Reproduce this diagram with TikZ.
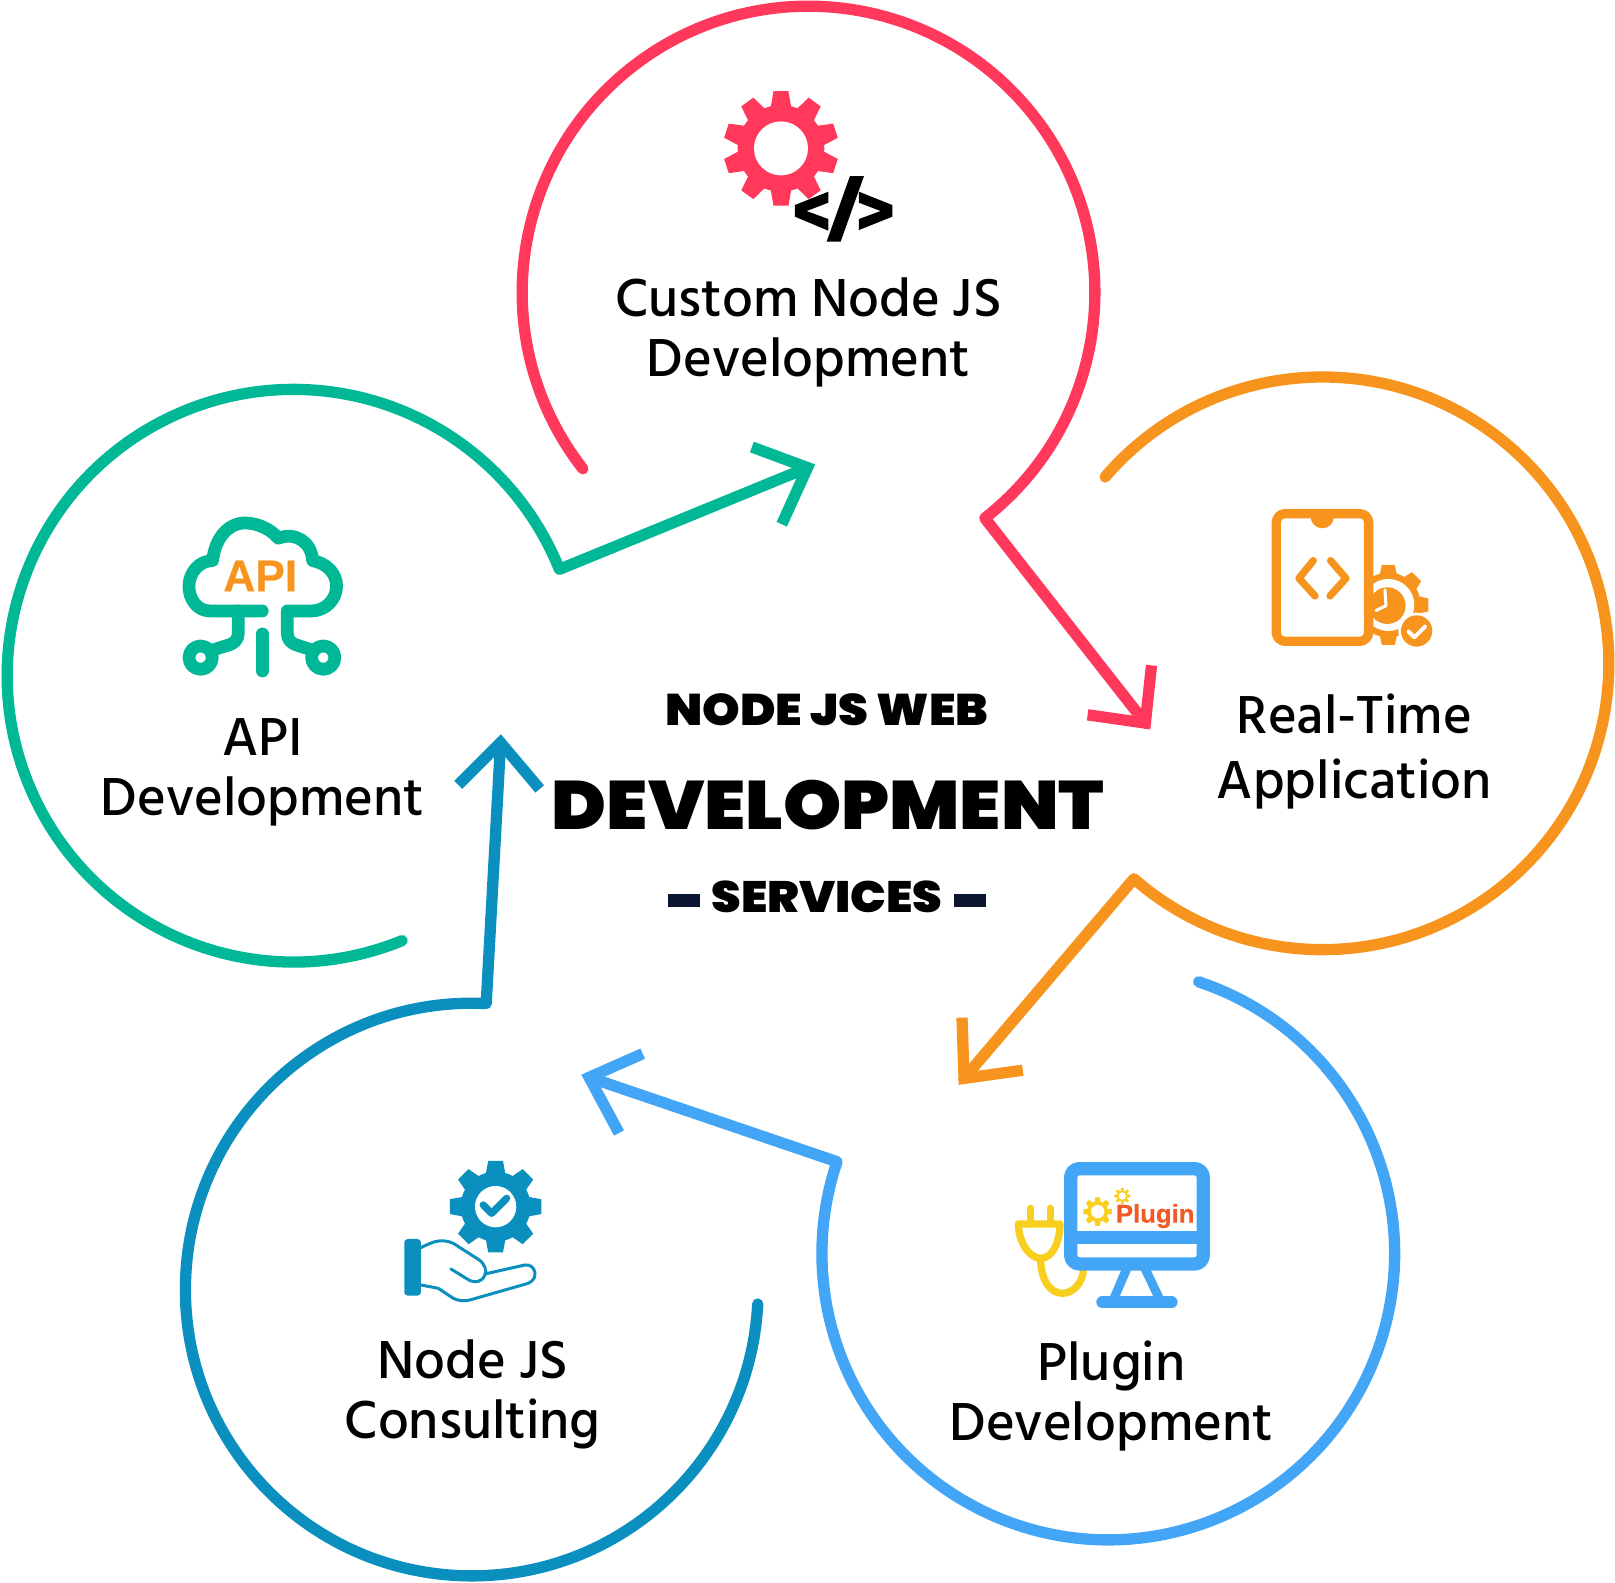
\documentclass[tikz,border=0pt]{standalone}
\usepackage{fontspec}
\newfontfamily\labelfont{Hind Siliguri Medium}
\newfontfamily\headfont[FakeStretch=1.08]{Poppins Black}
\newfontfamily\apifont[BoldFeatures={FakeBold=0.5}]{Liberation Sans}
\definecolor{ringred}{HTML}{FF385C}
\definecolor{ringorange}{HTML}{F7941E}
\definecolor{ringblue}{HTML}{42A5F5}
\definecolor{ringteal}{HTML}{0A8FBF}
\definecolor{ringgreen}{HTML}{00B796}
\definecolor{plugyellow}{HTML}{F9CF1F}
\definecolor{plugtext}{HTML}{F15A24}
\definecolor{dashnavy}{HTML}{0B1730}
\tikzset{
	ringline/.style={line width=1.13mm,line cap=round,line join=round},
	headline/.style={line width=1.13mm,line join=miter},
	servicelabel/.style={align=center,inner sep=0,font=\labelfont\fontsize{15.6}{17}\selectfont},
	centerlabel/.style={inner sep=0,text=black},
}
% gear: x, y, outer, body, hole, teeth, colour
\newcommand{\gearicon}[7]{
	\fill[#7] (#1,#2) circle[radius=#4];
	\foreach \i in {1,...,#6}{
		\fill[#7,rotate around={\i*360/#6:(#1,#2)}] ({#1-(1.3/#6+0.05)*#3},{#2-#4+0.04*#3}) -- ({#1-1.3/#6*#3},{#2-#3}) -- ({#1+1.3/#6*#3},{#2-#3}) -- ({#1+(1.3/#6+0.05)*#3},{#2-#4+0.04*#3}) -- cycle;
	}
	\fill[white] (#1,#2) circle[radius=#5];
}
\begin{document}
\begin{tikzpicture}[x=0.103mm,y=-0.103mm]
		\useasboundingbox (0,0) rectangle (1568,1536);
		% rings and arrows
		\coordinate (redstart) at ([shift={(142:278)}]785,284);
		\coordinate (redtip) at (1112,702);
		\coordinate (orangestart) at ([shift={(220.6:278)}]1284,644);
		\coordinate (orangetip) at (936,1047);
		\coordinate (bluestart) at ([shift={(288.4:278)}]1076,1217);
		\coordinate (bluetip) at (572,1046);
		\coordinate (tealstart) at ([shift={(2.9:278)}]458,1252);
		\coordinate (tealtip) at (486,721);
		\coordinate (greenstart) at ([shift={(67.7:278)}]285,656);
		\coordinate (greentip) at (784,454);
		\draw[ringline,ringred] (redstart) arc[start angle=142,end angle=412,radius=278] -- (redtip);
		\draw[ringline,ringorange] (orangestart) arc[start angle=220.6,end angle=491.2,radius=278] -- (orangetip);
		\draw[ringline,ringblue] (bluestart) arc[start angle=288.4,end angle=558.7,radius=278] -- (bluetip);
		\draw[ringline,ringteal] (tealstart) arc[start angle=2.9,end angle=272.9,radius=278] -- (tealtip);
		\draw[ringline,ringgreen] (greenstart) arc[start angle=67.7,end angle=338.2,radius=278] -- (greentip);
		\draw[headline,ringred] (1118,646)--(redtip)--(1056,694);
		\draw[headline,ringorange] (934,988)--(orangetip)--(993,1039);
		\draw[headline,ringblue] (624,1023)--(bluetip)--(601,1100);
		\draw[headline,ringteal] (445,762)--(tealtip)--(524,766);
		\draw[headline,ringgreen] (730,434)--(greentip)--(759,509);
		% labels
		\node[servicelabel] (custom) at (785,323){Custom Node JS\\Development};
		\node[servicelabel] (api) at (255,750){API\\Development};
		\node[servicelabel] (realtime) at (1315,730){Real-Time\\[1.5pt]Application};
		\node[servicelabel] (plugin) at (1079,1355){Plugin\\Development};
		\node[servicelabel] (consulting) at (459,1354){Node JS\\Consulting};
		% centre
		\node[centerlabel,font=\headfont\fontsize{12.6}{13}\selectfont] (webtitle) at (803,689){NODE JS WEB};
		\node[centerlabel,font=\headfont\fontsize{19.5}{20}\selectfont] (devtitle) at (804,782){DEVELOPMENT};
		\node[centerlabel,font=\headfont\fontsize{12.5}{13}\selectfont] (servtitle) at (803,871){SERVICES};
		\fill[dashnavy] (649,868) rectangle (680,881);
		\fill[dashnavy] (926,868) rectangle (957,881);
		% gear and code
		\begin{scope}[shift={(660.2,68)},scale=0.3236]
			\gearicon{303}{235}{172}{130}{81}{10}{ringred}
			\fill[black] (445,365)--(345,405)--(345,440)--(445,482)--(445,447)--(380,423)--(445,398)--cycle;
			\fill[black] (537,365)--(637,405)--(637,440)--(537,480)--(537,447)--(602,423)--(537,398)--cycle;
			\fill[black] (510,318)--(552,318)--(482,515)--(440,515)--cycle;
		\end{scope}
		% cloud
		\begin{scope}[shift={(155.3,485.4)},scale=0.3236,line cap=round,line join=round]
			\draw[ringgreen,line width=1.27mm] (307,333)--(150,333) .. controls (110,333) and (87,295) .. (87,260) .. controls (87,215) and (120,182) .. (158,182) .. controls (165,115) and (205,69) .. (255,69) .. controls (295,69) and (335,90) .. (355,115) .. controls (405,95) and (455,125) .. (458,182) .. controls (500,190) and (530,220) .. (530,258) .. controls (530,300) and (495,333) .. (455,333)--(382,333)--(382,400) .. controls (382,420) and (395,432) .. (415,437)--(450,448);
			\draw[ringgreen,line width=1.27mm] (235,333)--(235,400) .. controls (235,420) and (222,432) .. (200,437)--(165,448);
			\draw[ringgreen,line width=1.27mm] (307,402)--(307,513);
			\draw[ringgreen,line width=1.27mm] (122,473) circle[radius=35];
			\draw[ringgreen,line width=1.27mm] (490,473) circle[radius=35];
			\node[inner sep=0,text=ringorange,font=\apifont\bfseries\fontsize{12.6}{13}\selectfont] (apitext) at (301,228){API};
		\end{scope}
		% phone
		\begin{scope}[shift={(1213.6,475.7)},scale=0.3236,line cap=round,line join=round]
			\gearicon{415}{345}{120}{97}{78}{8}{ringorange}
			\fill[ringorange] (412,347) circle[radius=55];
			\draw[white,line width=0.3mm] (405,300)--(408,347)--(378,362);
			\draw[ringorange,fill=white,line width=0.93mm,rounded corners=2.5pt] (79,71) rectangle (356,454);
			\fill[ringorange] (182,80) arc[start angle=180,end angle=0,radius=35] --cycle;
			\fill[ringorange] (182,70) rectangle (252,82);
			\draw[ringorange,line width=0.73mm] (190,212)--(147,265)--(195,318);
			\draw[ringorange,line width=0.73mm] (242,212)--(288,265)--(240,318);
			\fill[white] (500,423) circle[radius=55];
			\fill[ringorange] (500,423) circle[radius=47];
			\draw[white,line width=0.4mm] (476,425)--(493,442)--(525,410);
		\end{scope}
		% plug and monitor
		\begin{scope}[shift={(970.9,1116.5)},scale=0.3236,line cap=round,line join=round]
			\draw[plugyellow,line width=0.73mm] (92,175)--(92,222);
			\draw[plugyellow,line width=0.73mm] (152,175)--(152,222);
			\draw[plugyellow,line width=0.73mm] (122,325) .. controls (85,325) and (55,270) .. (55,222)--(180,222) .. controls (180,270) and (160,325) .. (122,325) .. controls (122,390) and (150,430) .. (187,430) .. controls (220,430) and (245,400) .. (250,365);
			\draw[ringblue,fill=white,line width=1.33mm,rounded corners=2.5pt] (212,56) rectangle (610,342);
			\fill[ringblue] (212,243) rectangle (610,283);
			\draw[ringblue,line width=0.9mm,line cap=butt] (385,345)--(340,450);
			\draw[ringblue,line width=0.9mm,line cap=butt] (430,345)--(480,450);
			\draw[ringblue,line width=1.2mm] (307,457)--(515,457);
			\gearicon{293}{185}{43}{31}{20}{8}{plugyellow}
			\gearicon{367}{138}{24}{17}{11}{8}{plugyellow}
			\node[inner sep=0,anchor=base west,text=plugtext,font=\apifont\bfseries\fontsize{7.3}{8}\selectfont] (plugintext) at (346,218){Plugin};
		\end{scope}
		% gear and hand
		\begin{scope}[shift={(378.6,1116.5)},scale=0.3236,line cap=round,line join=round]
			\gearicon{317}{170}{137}{105}{62}{8}{ringteal}
			\draw[ringteal,line width=0.73mm] (280,165)--(305,190)--(350,145);
			\fill[ringteal,rounded corners=1pt] (43,267) rectangle (93,437);
			\draw[ringteal,line width=0.3mm] (93,293) .. controls (120,280) and (150,262) .. (190,280)--(265,328) .. controls (285,340) and (292,365) .. (285,375) .. controls (275,398) and (255,398) .. (240,392)--(183,357);
			\draw[ringteal,line width=0.3mm] (285,372)--(405,345) .. controls (435,340) and (450,385) .. (415,400)--(240,450) .. controls (220,455) and (205,452) .. (190,445)--(145,415)--(93,405);
		\end{scope}
		\end{tikzpicture}
\end{document}
